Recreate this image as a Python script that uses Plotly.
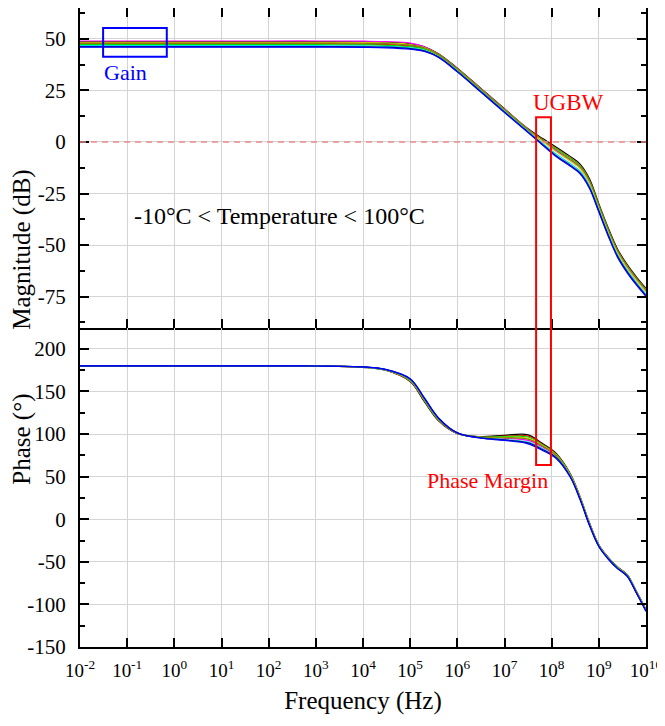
import plotly.graph_objects as go
from plotly.subplots import make_subplots

# frequency points (Hz)
freq = [1e-2, 1e2, 1e3, 1e4, 3.16e4, 1e5, 2e5, 4e5, 1e6, 3.16e6, 1e7, 3.16e7, 6.3e7,
        1.26e8, 2.5e8, 4e8, 6.3e8, 1e9, 1.6e9, 2.5e9, 4e9, 6.3e9, 1e10]

curve_names = ["black", "red", "green", "magenta", "yellow", "olive", "cyan", "navy", "blue"]
curve_colors = ["#000000", "#ff0000", "#00e000", "#ff00ff", "#d8d800", "#808000", "#00e0e0", "#000080", "#0000ff"]

# magnitude (dB), one list per temperature
mag_black = [48.7, 48.7, 48.7, 48.6, 48.4, 47.7, 46.2, 42.8, 35.8, 26.0, 16.1, 6.4, 1.8, -2.5, -7.1, -10.7, -17.7, -30.0, -42.0, -52.0, -59.5, -65.5, -71.0]
mag_red = [47.6, 47.6, 47.6, 47.5, 47.3, 46.6, 45.3, 42.1, 35.1, 25.3, 15.4, 5.7, 0.6, -4.2, -8.8, -12.4, -19.4, -31.2, -43.2, -53.2, -60.7, -66.7, -72.2]
mag_green = [47.2, 47.2, 47.2, 47.1, 46.9, 46.2, 45.1, 42.2, 35.2, 25.4, 15.5, 5.8, 0.9, -3.8, -8.4, -12.0, -19.0, -31.0, -43.0, -53.0, -60.5, -66.5, -72.0]
mag_magenta = [49.0, 49.0, 49.0, 48.9, 48.7, 48.0, 46.2, 42.6, 35.6, 25.8, 15.9, 6.2, 0.75, -4.5, -9.1, -12.7, -19.7, -31.5, -43.5, -53.5, -61.0, -67.0, -72.5]
mag_yellow = [48.3, 48.3, 48.3, 48.2, 48.0, 47.3, 45.8, 42.4, 35.4, 25.6, 15.7, 6.0, 0.5, -4.8, -9.4, -13.0, -20.0, -31.8, -43.8, -53.8, -61.3, -67.3, -72.8]
mag_olive = [48.0, 48.0, 48.0, 47.9, 47.7, 47.0, 45.7, 42.5, 35.5, 25.7, 15.8, 6.1, 1.3, -3.2, -7.8, -11.4, -18.4, -30.5, -42.5, -52.5, -60.0, -66.0, -71.5]
mag_cyan = [46.7, 46.7, 46.7, 46.6, 46.4, 45.7, 44.5, 41.5, 34.5, 24.7, 14.8, 5.1, -0.5, -6.0, -10.6, -14.2, -21.2, -32.8, -44.8, -54.8, -62.3, -68.3, -73.8]
mag_navy = [46.3, 46.3, 46.3, 46.2, 46.0, 45.3, 44.2, 41.2, 34.2, 24.4, 14.5, 4.8, -1.1, -6.8, -11.4, -15.0, -22.0, -33.5, -45.5, -55.5, -63.0, -69.0, -74.5]
mag_blue = [46.0, 46.0, 46.0, 45.9, 45.7, 45.0, 43.9, 41.0, 34.0, 24.2, 14.3, 4.6, -1.4, -7.2, -11.8, -15.4, -22.4, -34.0, -46.0, -56.0, -63.5, -69.5, -75.0]

# phase (deg)
ph_black = [180, 180, 179.8, 178.3, 174.5, 161.5, 138, 115.5, 100.5, 97, 98.5, 99, 89, 77, 53, 26.5, -4, -30, -45, -56, -65, -85, -106]
ph_red = [180, 180, 179.8, 178.4, 174.7, 162, 139, 116, 100.8, 96.5, 97.5, 97.5, 88, 76, 52.5, 26, -4.5, -30.5, -45.5, -56.5, -65.5, -85.5, -106.5]
ph_green = [180, 180, 179.8, 178.4, 174.8, 162.5, 139.5, 116.5, 101, 96.5, 97, 96.5, 87.5, 75.5, 52, 25.5, -4.5, -30.5, -45.5, -56.5, -65.5, -85.5, -106.5]
ph_magenta = [180, 180, 179.8, 178.5, 175.1, 163.2, 140.5, 117.3, 101, 96, 95, 92.5, 85, 74, 51, 25, -5, -31, -46, -57, -66, -86, -107]
ph_yellow = [180, 180, 179.8, 178.5, 175, 163, 140, 117, 101, 96, 96, 95, 86.5, 75, 51.5, 25.5, -5, -31, -46, -57, -66, -86, -107]
ph_olive = [180, 180, 179.8, 178.5, 175, 163, 140, 117, 101, 96, 95.5, 94, 86, 74.5, 51, 25, -5, -31, -46, -57, -66, -86, -107]
ph_cyan = [180, 180, 179.8, 178.6, 175.3, 164, 141.5, 118, 101.2, 95.5, 93.5, 90.5, 83, 72.5, 50, 24, -6, -31.5, -46.5, -57.5, -66.5, -86.5, -107.5]
ph_navy = [180, 180, 179.8, 178.7, 175.5, 164.5, 142, 118.5, 101.3, 95.5, 93, 89.5, 82, 72, 49.5, 23.5, -6.5, -32, -47, -58, -67, -87, -108]
ph_blue = [180, 180, 179.8, 178.7, 175.6, 165, 142.5, 119, 101.5, 95, 92.5, 88.5, 81, 71, 49, 23, -7, -32, -47, -58, -67, -87, -108]

mags = [mag_black, mag_red, mag_green, mag_magenta, mag_yellow, mag_olive, mag_cyan, mag_navy, mag_blue]
phases = [ph_black, ph_red, ph_green, ph_magenta, ph_yellow, ph_olive, ph_cyan, ph_navy, ph_blue]

x_exponents = list(range(-2, 11))
mag_ticks = [-75, -50, -25, 0, 25, 50]
phase_ticks = [-150, -100, -50, 0, 50, 100, 150, 200]

font_family = "Liberation Serif"
grid_major = "#d4d4d4"
grid_minor = "#d8d8d8"

fig = make_subplots(rows=2, cols=1, shared_xaxes=True, vertical_spacing=0)

for name, color, m, p in zip(curve_names, curve_colors, mags, phases):
    fig.add_trace(go.Scatter(x=freq, y=m, mode="lines", name=name,
                             line=dict(color=color, width=1.2, shape="spline", smoothing=1.0)),
                  row=1, col=1)
    fig.add_trace(go.Scatter(x=freq, y=p, mode="lines", name=name,
                             line=dict(color=color, width=1.2, shape="spline", smoothing=1.0)),
                  row=2, col=1)

# 0 dB reference line
fig.add_shape(type="line", xref="x", yref="y", x0=1e-2, x1=1e10, y0=0, y1=0,
              line=dict(color="#ec8a8a", width=1.5, dash="6px,5px"))

# Gain box
fig.add_shape(type="rect", xref="x", yref="y", x0=10 ** -1.51, x1=10 ** -0.16, y0=41.3, y1=55.3,
              line=dict(color="#0000ff", width=2))
fig.add_annotation(x=-1.53, y=33.5, xref="x", yref="y", text="Gain", showarrow=False,
                   xanchor="left", font=dict(family=font_family, size=22, color="#0000ff"))

# UGBW / phase margin box spanning both panels
fig.add_shape(type="rect", xref="x", yref="paper", x0=10 ** 7.67, x1=10 ** 7.985, y0=0.285, y1=0.829,
              line=dict(color="#ff0000", width=2))
fig.add_annotation(x=8.35, y=19, xref="x", yref="y", text="UGBW", showarrow=False,
                   font=dict(family=font_family, size=23, color="#ff0000"))
fig.add_annotation(x=6.63, y=45, xref="x2", yref="y2", text="Phase Margin", showarrow=False,
                   font=dict(family=font_family, size=22, color="#ff0000"))

fig.add_annotation(x=2.22, y=-36, xref="x", yref="y", text="-10°C < Temperature < 100°C",
                   showarrow=False, font=dict(family=font_family, size=24, color="#000000"))

# y-axis titles
fig.add_annotation(x=0, y=0.75, xref="paper", yref="paper", xshift=-58, xanchor="center",
                   text="Magnitude (dB)", textangle=-90, showarrow=False,
                   font=dict(family=font_family, size=25, color="#000000"))
fig.add_annotation(x=0, y=0.25, xref="paper", yref="paper", xshift=-58, xanchor="center",
                   text="Phase (°)", textangle=-90, showarrow=False,
                   font=dict(family=font_family, size=25, color="#000000"))

xaxis_common = dict(type="log", range=[-2, 10], tickvals=[10 ** k for k in x_exponents],
                    ticks="inside", ticklen=9, tickwidth=2, tickcolor="black",
                    showline=True, linecolor="black", linewidth=2, automargin=False,
                    showgrid=True, gridcolor=grid_major, gridwidth=1,
                    minor=dict(ticks="inside", ticklen=5, tickwidth=1.5, tickcolor="black",
                               showgrid=True, gridcolor=grid_minor, griddash="3px,2px", gridwidth=1),
                    zeroline=False)

fig.update_xaxes(row=1, col=1, showticklabels=False, mirror="ticks", **xaxis_common)
fig.update_xaxes(row=2, col=1, mirror=False,
                 ticktext=["10<sup>%d</sup>" % k for k in x_exponents],
                 tickfont=dict(family=font_family, size=19, color="black"),
                 ticklabelstandoff=5, ticklabeloverflow="allow",
                 title=dict(text="Frequency (Hz)", font=dict(family=font_family, size=25, color="black"),
                            standoff=12),
                 **xaxis_common)

yaxis_common = dict(ticks="inside", ticklen=9, tickwidth=2, tickcolor="black",
                    showline=True, linecolor="black", linewidth=2, mirror="ticks", automargin=False,
                    showgrid=True, gridcolor=grid_major, gridwidth=1, zeroline=False,
                    tickfont=dict(family=font_family, size=21, color="black"),
                    ticklabelstandoff=8)

fig.update_yaxes(row=1, col=1, range=[-90, 65], tickvals=mag_ticks,
                 ticktext=[str(v) for v in mag_ticks],
                 minor=dict(ticks="inside", ticklen=5, tickwidth=1.5, tickcolor="black",
                            tickvals=[-87.5, -62.5, -37.5, -12.5, 12.5, 37.5, 62.5], showgrid=False),
                 **yaxis_common)
fig.update_yaxes(row=2, col=1, range=[-150, 225], tickvals=phase_ticks,
                 ticktext=[str(v) for v in phase_ticks],
                 minor=dict(ticks="inside", ticklen=5, tickwidth=1.5, tickcolor="black",
                            tickvals=[-125, -75, -25, 25, 75, 125, 175], showgrid=False),
                 **yaxis_common)

# the page body adds an 8px margin, so the figure is sized to fit inside the window
fig.update_layout(width=657, height=718, showlegend=False,
                  margin=dict(l=72, r=19, t=0, b=79),
                  paper_bgcolor="white", plot_bgcolor="white",
                  font=dict(family=font_family, color="black"))

fig.write_html("out.html")
